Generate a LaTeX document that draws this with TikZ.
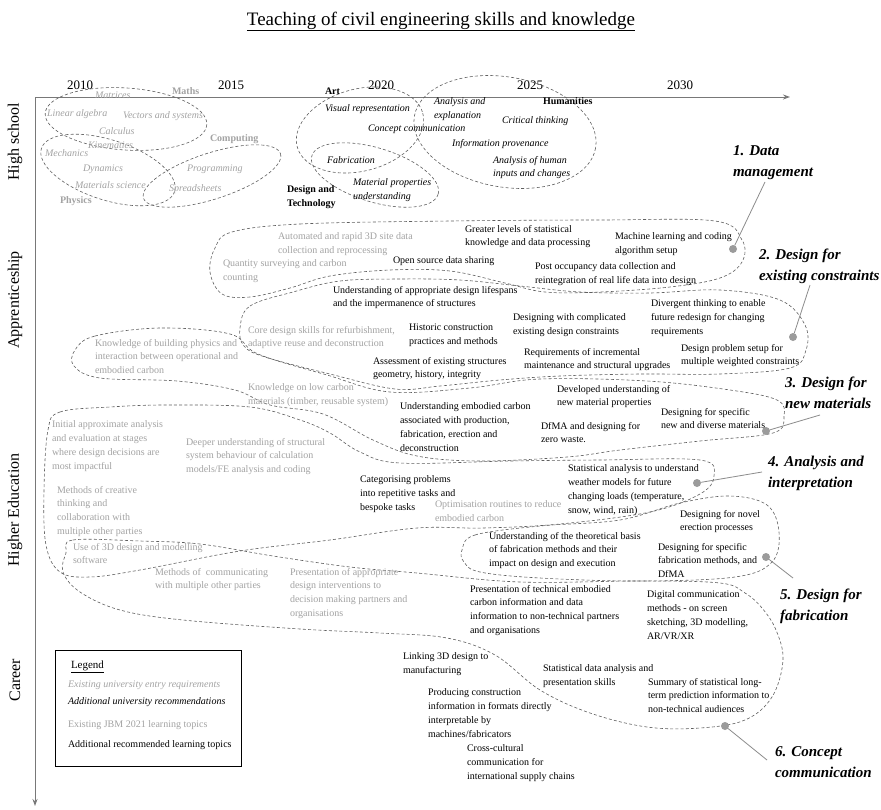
\documentclass[tikz,border=0pt]{standalone}
\usepackage{fontspec}
\setmainfont{Liberation Serif}
\usetikzlibrary{arrows.meta}
\definecolor{gtxt}{RGB}{163,163,163}
\definecolor{dline}{RGB}{95,95,95}
\definecolor{conncol}{RGB}{140,140,140}
\definecolor{dotc}{RGB}{155,155,155}
\definecolor{axisc}{RGB}{120,120,120}
\begin{document}
\begin{tikzpicture}[x=1pt,y=-1pt,
  every node/.style={inner sep=0pt, outer sep=0pt, anchor=north west, align=left, font=\fontsize{10}{13.8}\selectfont},
  gt/.style={text=gtxt},
  gti/.style={text=gtxt, font=\fontsize{10}{13.8}\selectfont\itshape},
  gtb/.style={text=gtxt, font=\fontsize{10}{13.8}\selectfont\bfseries},
  kt/.style={text=black},
  kti/.style={text=black, font=\fontsize{10}{13.8}\selectfont\itshape},
  ktb/.style={text=black, font=\fontsize{10}{13.8}\selectfont\bfseries},
  lab/.style={text=black, font=\fontsize{15}{21}\selectfont\bfseries\itshape},
  blob/.style={draw=dline, line width=0.6pt, dash pattern=on 3pt off 2.2pt},
  connline/.style={draw=conncol, line width=0.8pt},
  ldot/.style={circle, fill=dotc, minimum size=8pt, inner sep=0pt, anchor=center},
  axisline/.style={draw=axisc, line width=0.9pt, -{Stealth[length=7pt,width=5pt]}},
  yearlab/.style={anchor=center, font=\fontsize{13}{15}\selectfont},
  rowlab/.style={anchor=center, rotate=90, font=\fontsize{16}{18}\selectfont}
]
\useasboundingbox[fill=white] (0,0) rectangle (881,809);

% title
\node[anchor=base, font=\fontsize{19}{22}\selectfont] (title) at (441,25) {\underline{Teaching of civil engineering skills and knowledge}};

% axes
\coordinate (orig) at (35,97);
\coordinate (xend) at (790,97);
\coordinate (yend) at (35,806);
\draw[axisline] (orig) -- (xend);
\draw[axisline] (orig) -- (yend);

% years
\node[yearlab] (y2010) at (80,85) {2010};
\node[yearlab] (y2015) at (231,85) {2015};
\node[yearlab] (y2020) at (381,85) {2020};
\node[yearlab] (y2025) at (530,85) {2025};
\node[yearlab] (y2030) at (680,85) {2030};

% rows
\node[rowlab] (rhs) at (15,142) {High school};
\node[rowlab] (rap) at (15,300) {Apprenticeship};
\node[rowlab] (rhe) at (15,510) {Higher Education};
\node[rowlab] (rca) at (15,680) {Career};

% high school ellipses
\draw[blob, rotate around={-4:(126,119)}] (126,119) ellipse [x radius=81, y radius=31];
\draw[blob, rotate around={-18:(108,170)}] (108,170) ellipse [x radius=70, y radius=30];
\draw[blob, rotate around={18:(212,176)}] (212,176) ellipse [x radius=72, y radius=23];
\draw[blob, rotate around={15:(360,130)}] (360,130) ellipse [x radius=65, y radius=41];
\draw[blob, rotate around={-17:(375,175)}] (375,175) ellipse [x radius=66, y radius=27];
\draw[blob, rotate around={-10:(505,132)}] (505,132) ellipse [x radius=92, y radius=55];

% high school texts
\node[gtb] (hmaths) at (172,88) {Maths};
\node[gti] (hmat) at (95,92) {Matrices};
\node[gti] (hlin) at (47,110) {Linear algebra};
\node[gti] (hvec) at (123,112) {Vectors and systems};
\node[gti] (hcalc) at (99,128) {Calculus};
\node[gti] (hkin) at (88,142) {Kinematics};
\node[gti] (hmech) at (45,150) {Mechanics};
\node[gti] (hdyn) at (83,165) {Dynamics};
\node[gti] (hmatsci) at (75,182) {Materials science};
\node[gtb] (hphys) at (60,197) {Physics};
\node[gtb] (hcomp) at (210,135) {Computing};
\node[gti] (hprog) at (187,165) {Programming};
\node[gti] (hspread) at (169,185) {Spreadsheets};
\node[ktb] (hart) at (325,88) {Art};
\node[kti] (hvis) at (325,105) {Visual representation};
\node[kti] (hconc) at (368,125) {Concept communication};
\node[kti] (hfab) at (327,157) {Fabrication};
\node[kti] (hmatprop) at (353,179) {Material properties\\understanding};
\node[ktb] (hdt) at (287,186) {Design and\\Technology};
\node[kti] (hanal) at (434,98) {Analysis and\\explanation};
\node[ktb] (hhum) at (543,98) {Humanities};
\node[kti] (hcrit) at (502,117) {Critical thinking};
\node[kti] (hinfo) at (452,139) {Information provenance};
\node[kti] (hhuman) at (493,156) {Analysis of human\\inputs and changes};

% blobs
\draw[blob] plot[smooth cycle, tension=0.6] coordinates {(232,232) (300,224) (450,221) (600,220) (715,221) (742,240) (742,262) (720,278) (670,287) (600,292) (545,292) (505,283) (450,271) (390,270) (330,276) (290,288) (250,297) (222,294) (210,272) (215,248)};
\draw[blob] plot[smooth cycle, tension=0.6] coordinates {(240,328) (250,306) (293,292) (340,281) (400,279) (460,280) (520,286) (580,292) (650,293) (720,290) (780,300) (805,325) (806,350) (790,368) (720,374) (640,374) (560,376) (500,380) (440,386) (395,389) (330,374) (265,357) (244,346)};
\draw[blob] plot[smooth cycle, tension=0.6] coordinates {(75,350) (95,336) (160,328) (230,334) (258,354) (327,375) (390,392) (470,388) (540,379) (647,381) (730,390) (777,400) (784,416) (773,433) (700,441) (620,450) (567,457) (480,461) (417,456) (373,440) (323,414) (270,405) (235,390) (177,381) (100,378) (74,366)};
\draw[blob] plot[smooth cycle, tension=0.6] coordinates {(48,430) (60,412) (110,407) (167,405) (250,407) (300,420) (330,433) (360,452) (400,463) (510,461) (600,460) (700,460) (714,476) (700,494) (650,512) (560,524) (483,528) (417,528) (330,540) (240,551) (140,570) (90,577) (60,572) (46,545) (44,490)};
\draw[blob] plot[smooth cycle, tension=0.6] coordinates {(462,550) (475,535) (540,526) (620,520) (680,503) (730,496) (767,505) (779,532) (772,562) (735,577) (640,581) (540,578) (480,572) (464,562)};
\draw[blob] plot[smooth cycle, tension=0.6] coordinates {(66,553) (73,540) (140,541) (200,544) (273,556) (350,567) (417,573) (520,582) (640,581) (720,583) (745,593) (762,608) (776,630) (783,660) (772,697) (745,720) (700,728) (647,727) (590,713) (540,690) (495,655) (447,638) (380,633) (300,629) (183,620) (120,610) (80,592) (63,572)};

% apprenticeship texts
\node[gt] (a1) at (278,233) {Automated and rapid 3D site data\\collection and reprocessing};
\node[gt] (a2) at (223,260) {Quantity surveying and carbon\\counting};
\node[kt] (a3) at (465,225) {Greater levels of statistical\\knowledge and data processing};
\node[kt] (a4) at (615,233) {Machine learning and coding\\algorithm setup};
\node[kt] (a5) at (393,257) {Open source data sharing};
\node[kt] (a6) at (535,263) {Post occupancy data collection and\\reintegration of real life data into design};
\node[kt] (a7) at (333,286) {Understanding of appropriate design lifespans\\and the impermanence of structures};
\node[gt] (a8) at (248,326) {Core design skills for refurbishment,\\adaptive reuse and deconstruction};
\node[kt] (a9) at (409,324) {Historic construction\\practices and methods};
\node[kt] (a10) at (513,314) {Designing with complicated\\existing design constraints};
\node[kt] (a11) at (651,300) {Divergent thinking to enable\\future redesign for changing\\requirements};
\node[kt] (a12) at (373,357) {Assessment of existing structures\\geometry, history, integrity};
\node[kt] (a13) at (524,348) {Requirements of incremental\\maintenance and structural upgrades};
\node[kt] (a14) at (681,344) {Design problem setup for\\multiple weighted constraints};
\node[gt] (a15) at (95,339) {Knowledge of building physics and\\interaction between operational and\\embodied carbon};
\node[gt] (a16) at (248,384) {Knowledge on low carbon\\materials (timber, reusable system)};
\node[kt] (a17) at (557,385) {Developed understanding of\\new material properties};
\node[kt] (a18) at (400,403) {Understanding embodied carbon\\associated with production,\\fabrication, erection and\\deconstruction};
\node[kt] (a19) at (541,422) {DfMA and designing for\\zero waste.};
\node[kt] (a20) at (661,408) {Designing for specific\\new and diverse materials};

% higher education texts
\node[gt] (e1) at (52,421) {Initial approximate analysis\\and evaluation at stages\\where design decisions are\\most impactful};
\node[gt] (e2) at (186,438) {Deeper understanding of structural\\system behaviour of calculation\\models/FE analysis and coding};
\node[gt] (e3) at (57,486) {Methods of creative\\thinking and\\collaboration with\\multiple other parties};
\node[kt] (e4) at (360,476) {Categorising problems\\into repetitive tasks and\\bespoke tasks};
\node[gt] (e5) at (435,501) {Optimisation routines to reduce\\embodied carbon};
\node[kt] (e6) at (568,465) {Statistical analysis to understand\\weather models for future\\changing loads (temperature,\\snow, wind, rain)};
\node[gt] (e7) at (73,543) {Use of 3D design and modelling\\software};
\node[gt] (e8) at (155,568) {Methods of \ communicating\\with multiple other parties};
\node[gt] (e9) at (290,568) {Presentation of appropriate\\design interventions to\\decision making partners and\\organisations};
\node[kt] (e10) at (680,510) {Designing for novel\\erection processes};
\node[kt] (e11) at (489,532) {Understanding of the theoretical basis\\of fabrication methods and their\\impact on design and execution};
\node[kt] (e12) at (658,543) {Designing for specific\\fabrication methods, and\\DfMA};
\node[kt] (e13) at (470,585) {Presentation of technical embodied\\carbon information and data\\information to non-technical partners\\and organisations};
\node[kt] (e14) at (647,591) {Digital communication\\methods - on screen\\sketching, 3D modelling,\\AR/VR/XR};

% career texts
\node[kt] (c1) at (403,653) {Linking 3D design to\\manufacturing};
\node[kt] (c2) at (543,665) {Statistical data analysis and\\presentation skills};
\node[kt] (c3) at (648,678) {Summary of statistical long-\\term prediction information to\\non-technical audiences};
\node[kt] (c4) at (428,689) {Producing construction\\information in formats directly\\interpretable by\\machines/fabricators};
\node[kt] (c5) at (467,745) {Cross-cultural\\communication for\\international supply chains};

% legend
\node[draw=black, line width=0.9pt, minimum width=186, minimum height=116] (legend) at (55,650) {};
\node[font=\fontsize{11}{13}\selectfont] (lg0) at (71,661) {\underline{Legend}};
\node[gti] (lg1) at (68,681) {Existing university entry requirements};
\node[kti] (lg2) at (68,698) {Additional university recommendations};
\node[gt] (lg3) at (68,721) {Existing JBM 2021 learning topics};
\node[kt] (lg4) at (68,741) {Additional recommended learning topics};

% category labels
\node[lab] (l1) at (733,146) {1. Data\\management};
\node[lab] (l2) at (759,249) {2. Design for\\existing constraints};
\node[lab] (l3) at (785,377) {3. Design for\\new materials};
\node[lab] (l4) at (768,456) {4. Analysis and\\interpretation};
\node[lab] (l5) at (780,589) {5. Design for\\fabrication};
\node[lab] (l6) at (775,747) {6. Concept\\communication};

% dots and connectors
\node[ldot] (d1) at (733,249) {};
\node[ldot] (d2) at (793,337) {};
\node[ldot] (d3) at (766,431) {};
\node[ldot] (d4) at (697,483) {};
\node[ldot] (d5) at (766,557) {};
\node[ldot] (d6) at (725,726) {};
\coordinate (k1) at (765,182);
\coordinate (k2) at (810,285);
\coordinate (k3) at (820,415);
\coordinate (k4) at (762,472);
\coordinate (k5) at (793,578);
\coordinate (k6) at (767,760);
\draw[connline] (k1) -- (d1);
\draw[connline] (k2) -- (d2);
\draw[connline] (k3) -- (d3);
\draw[connline] (k4) -- (d4);
\draw[connline] (k5) -- (d5);
\draw[connline] (k6) -- (d6);
\end{tikzpicture}
\end{document}
